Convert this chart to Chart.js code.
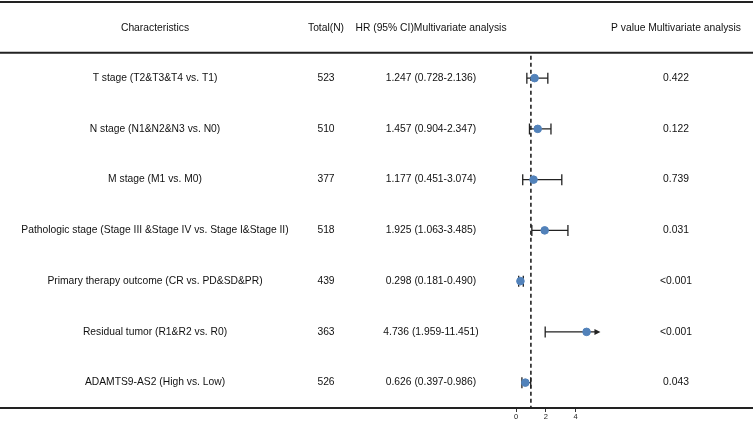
<!DOCTYPE html>
<html>
<head>
<meta charset="utf-8">
<script src="https://cdn.jsdelivr.net/npm/chart.js@4.4.1/dist/chart.umd.min.js"></script>
<style>
  html, body { margin: 0; padding: 0; background: #fff; }
  #wrap { width: 753px; height: 423px; }
</style>
</head>
<body>
<div id="wrap"><canvas id="forest"></canvas></div>
<script>
const characteristics = [
  'T stage (T2&T3&T4 vs. T1)',
  'N stage (N1&N2&N3 vs. N0)',
  'M stage (M1 vs. M0)',
  'Pathologic stage (Stage III &Stage IV vs. Stage I&Stage II)',
  'Primary therapy outcome (CR vs. PD&SD&PR)',
  'Residual tumor (R1&R2 vs. R0)',
  'ADAMTS9-AS2 (High vs. Low)'
]
const totals = [523, 510, 377, 518, 439, 363, 526]
const hr = [1.247, 1.457, 1.177, 1.925, 0.298, 4.736, 0.626]
const lower = [0.728, 0.904, 0.451, 1.063, 0.181, 1.959, 0.397]
const upper = [2.136, 2.347, 3.074, 3.485, 0.490, 11.451, 0.986]
const pValues = ['0.422', '0.122', '0.739', '0.031', '<0.001', '<0.001', '0.043']
const xTicks = [0, 2, 4]
const headers = ['Characteristics', 'Total(N)', 'HR (95% CI)Multivariate analysis', 'P value Multivariate analysis']

const FONT = '10.3px "Liberation Sans", Arial, sans-serif'
const clipMax = 5.4

const fmt = v => v.toFixed(3)

const tablePlugin = {
  id: 'table',
  beforeDatasetsDraw(chart) {
    const { ctx, scales: { x, y }, chartArea } = chart
    ctx.save()

    // top rule and header rule
    ctx.strokeStyle = '#222'
    ctx.lineWidth = 2
    ;[-1.5, -0.5].forEach(v => {
      const py = y.getPixelForValue(v)
      ctx.beginPath()
      ctx.moveTo(0, py)
      ctx.lineTo(chart.width, py)
      ctx.stroke()
    })

    // reference line at HR = 1
    ctx.setLineDash([4, 3])
    ctx.lineWidth = 1.6
    ctx.strokeStyle = '#222'
    ctx.beginPath()
    ctx.moveTo(x.getPixelForValue(1), y.getPixelForValue(-0.44))
    ctx.lineTo(x.getPixelForValue(1), chartArea.bottom)
    ctx.stroke()
    ctx.setLineDash([])

    // text columns
    ctx.fillStyle = '#111'
    ctx.font = FONT
    ctx.textAlign = 'center'
    ctx.textBaseline = 'middle'
    const cols = [155, 326, 431, 676]
    const hy = y.getPixelForValue(-0.98)
    headers.forEach((h, i) => ctx.fillText(h, cols[i], hy))
    characteristics.forEach((c, i) => {
      const py = y.getPixelForValue(i)
      ctx.fillText(c, cols[0], py)
      ctx.fillText(String(totals[i]), cols[1], py)
      ctx.fillText(fmt(hr[i]) + ' (' + fmt(lower[i]) + '-' + fmt(upper[i]) + ')', cols[2], py)
      ctx.fillText(pValues[i], cols[3], py)
    })

    // confidence intervals
    ctx.strokeStyle = '#222'
    ctx.fillStyle = '#222'
    ctx.lineWidth = 1.3
    hr.forEach((v, i) => {
      const py = y.getPixelForValue(i)
      const x0 = x.getPixelForValue(lower[i])
      const clipped = upper[i] > clipMax
      const x1 = x.getPixelForValue(clipped ? clipMax : upper[i])
      ctx.beginPath()
      ctx.moveTo(x0, py)
      ctx.lineTo(x1, py)
      ctx.moveTo(x0, py - 5.5)
      ctx.lineTo(x0, py + 5.5)
      if (!clipped) {
        ctx.moveTo(x1, py - 5.5)
        ctx.lineTo(x1, py + 5.5)
      }
      ctx.stroke()
      if (clipped) {
        ctx.beginPath()
        ctx.moveTo(x1 + 4, py)
        ctx.lineTo(x1 - 2, py - 3)
        ctx.lineTo(x1 - 2, py + 3)
        ctx.closePath()
        ctx.fill()
      }
    })
    ctx.restore()
  }
}

new Chart(document.getElementById('forest'), {
  type: 'scatter',
  data: {
    datasets: [{
      data: hr.map((v, i) => ({ x: v, y: i })),
      backgroundColor: '#5282BA',
      borderColor: '#5282BA',
      pointRadius: 3.8,
      pointHoverRadius: 3.8
    }]
  },
  options: {
    responsive: true,
    maintainAspectRatio: false,
    animation: false,
    layout: { padding: { top: 2, left: 0, right: 0, bottom: 0 }, autoPadding: false },
    plugins: {
      legend: { display: false },
      tooltip: { enabled: false }
    },
    scales: {
      x: {
        type: 'linear',
        min: -516 / 14.9,
        max: 237 / 14.9,
        afterBuildTicks: s => { s.ticks = xTicks.map(v => ({ value: v })) },
        afterFit: s => { s.height = 15; s.paddingLeft = 0; s.paddingRight = 0 },
        grid: { drawOnChartArea: false, drawTicks: true, tickLength: 4, color: '#333', lineWidth: 1 },
        border: { display: true, color: '#222', width: 2 },
        ticks: {
          padding: 0,
          color: '#222',
          font: { size: 7.5, family: '"Liberation Sans", Arial, sans-serif' },
          maxRotation: 0,
          autoSkip: false
        }
      },
      y: {
        type: 'linear',
        reverse: true,
        min: -1.5,
        max: 6.5,
        display: false
      }
    }
  },
  plugins: [tablePlugin]
})
</script>
</body>
</html>
